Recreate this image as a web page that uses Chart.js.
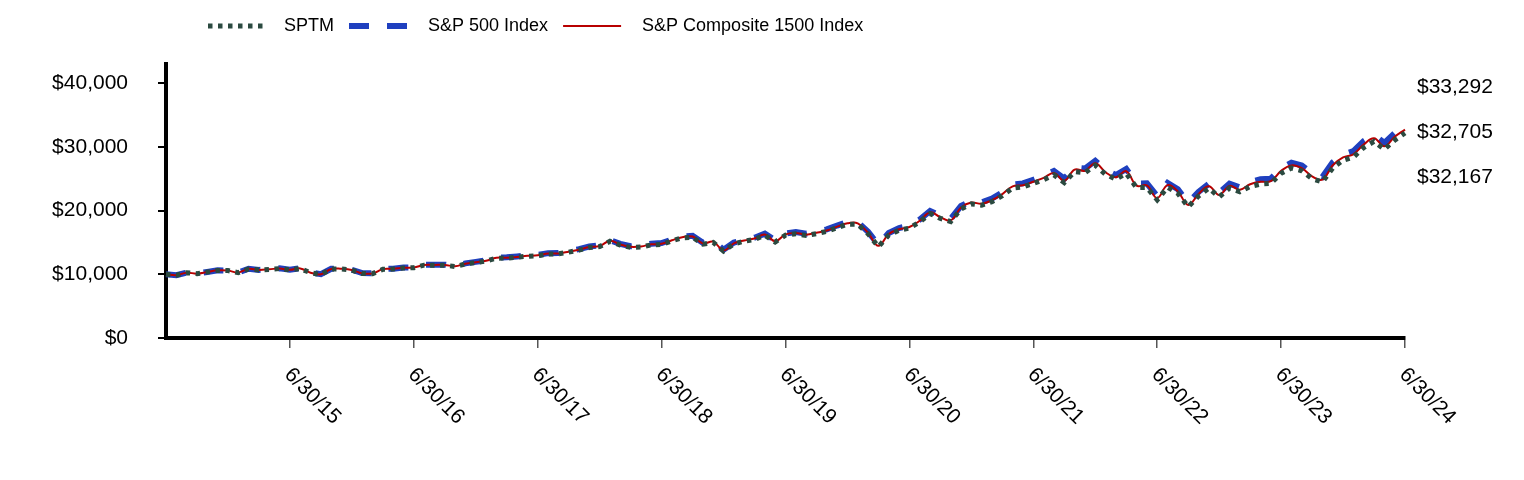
<!DOCTYPE html>
<html><head><meta charset="utf-8">
<script src="https://cdn.jsdelivr.net/npm/chart.js@4.4.1/dist/chart.umd.min.js"></script>
<style>html,body{margin:0;padding:0;background:#fff}#wrap{width:1524px;height:480px}</style>
</head><body><div id="wrap"><canvas id="c" width="1524" height="480"></canvas></div>
<script>
const seriesNames = ['SPTM', 'S&P 500 Index', 'S&P Composite 1500 Index'];

const sptm = [
 10000,9861,10245,10098,10345,10612,10580,10264,10840,10665,10769,10894,
 10678,10902,10231,9974,10814,10833,10655,10126,10098,10777,10819,10998,
 11021,11427,11427,11426,11218,11615,11841,12067,12531,12541,12671,12833,
 12911,13175,13199,13470,13786,14189,14346,15170,14597,14221,14278,14604,
 14693,15240,15719,15807,14727,15008,13647,14738,15195,15485,16112,15070,
 16129,16359,16084,16379,16734,17325,17841,17833,16354,14324,16161,16912,
 17244,18215,19516,18772,18275,20266,21041,20833,21403,22337,23536,23694,
 24249,24831,25582,24394,26112,25925,27089,25695,24919,25842,23596,23625,
 21669,23671,22694,20600,22271,23496,22136,23533,22946,23777,24156,24244,
 25845,26681,26240,24990,24472,26685,27899,28377,29881,30844,29597,31052,
 32167];

const sp500 = [
 10000,9864,10251,10107,10357,10627,10598,10284,10865,10692,10799,10928,
 10714,10942,10272,10016,10863,10885,10709,10181,10155,10841,10886,11070,
 11096,11508,11511,11514,11307,11711,11942,12173,12645,12659,12793,12961,
 13043,13314,13342,13620,13943,14355,14518,15356,14780,14404,14465,14800,
 14894,15453,15944,16037,14946,15235,13858,14970,15438,15738,16380,15325,
 16406,16645,16370,16675,17041,17648,18179,18176,16673,14608,16486,17257,
 17601,18598,19931,19177,18675,20715,21514,21307,21896,22859,24092,24261,
 24837,25440,26217,25007,26776,26592,27794,26371,25582,26537,24238,24275,
 22271,24336,23338,21191,22917,24184,22791,24236,23638,24502,24899,24997,
 26656,27526,27079,25797,25269,27562,28825,29327,30888,31895,30614,32129,
 33292];

const sp1500 = [
 10000,9863,10248,10103,10351,10619,10589,10273,10852,10678,10783,10910,
 10695,10921,10251,9994,10837,10858,10681,10153,10125,10808,10851,11033,
 11057,11466,11467,11468,11261,11661,11889,12118,12586,12598,12729,12894,
 12974,13242,13268,13542,13861,14269,14428,15259,14685,14309,14367,14698,
 14789,15342,15827,15917,14832,15117,13748,14849,15311,15606,16241,15192,
 16262,16496,16221,16521,16881,17480,18003,17997,16507,14460,16317,17077,
 17415,18399,19715,18966,18467,20481,21268,21060,21639,22587,23802,23966,
 24531,25123,25886,24688,26430,26245,27427,26019,25237,26175,23904,23937,
 21957,23990,23003,20883,22581,23826,22450,23870,23277,24125,24512,24605,
 26234,27086,26642,25377,24854,27105,28343,28832,30364,31348,30084,31568,
 32705];

const xTickLabels = ['6/30/15','6/30/16','6/30/17','6/30/18','6/30/19','6/30/20','6/30/21','6/30/22','6/30/23','6/30/24'];
const yTicks = [0, 10000, 20000, 30000, 40000];
const endValues = [33292, 32705, 32167];

// month-end category labels, 6/30/14 .. 6/30/24
const categories = [];
for (let m = 0; m < sp500.length; m++) {
  const d = new Date(2014, 6 + m, 0);
  categories.push((d.getMonth() + 1) + '/' + d.getDate() + '/' + String(d.getFullYear()).slice(2));
}

const GREEN = '#2b4a40', BLUE = '#1f40bf', RED = '#b80000';
const FONT = '"Liberation Sans", Arial, Helvetica, sans-serif';
Chart.defaults.font.family = FONT;
Chart.defaults.color = '#000';

const fmt = v => '$' + Number(v).toLocaleString('en-US');

const legendStyles = [
  {color: GREEN, width: 5, dash: [4.5, 5.5], len: 55},
  {color: BLUE, width: 6, dash: [20, 18], len: 58},
  {color: RED, width: 2, dash: [], len: 58}
];

const overlay = {
  id: 'overlay',
  afterDraw(chart) {
    const ctx = chart.ctx, xs = chart.scales.x, area = chart.chartArea;
    ctx.save();
    // rotated x tick labels
    ctx.font = '21px ' + FONT;
    ctx.fillStyle = '#000';
    ctx.textAlign = 'left';
    ctx.textBaseline = 'top';
    xs.ticks.forEach(t => {
      const px = xs.getPixelForValue(t.value);
      ctx.save();
      ctx.translate(px + 5, area.bottom + 26);
      ctx.rotate(Math.PI / 4);
      ctx.fillText(categories[t.value], 0, 0);
      ctx.restore();
    });
    // end value labels
    ctx.textBaseline = 'middle';
    endValues.forEach((v, i) => ctx.fillText(fmt(v), area.right + 12, area.top + 23 + 45 * i));
    // legend
    ctx.font = '18px ' + FONT;
    let x = 208;
    const y = 26;
    seriesNames.forEach((name, i) => {
      const s = legendStyles[i];
      ctx.save();
      ctx.strokeStyle = s.color;
      ctx.lineWidth = s.width;
      ctx.lineCap = 'butt';
      ctx.setLineDash(s.dash);
      ctx.beginPath();
      ctx.moveTo(x, y);
      ctx.lineTo(x + s.len, y);
      ctx.stroke();
      ctx.restore();
      x += s.len + 21;
      ctx.fillText(name, x, y);
      x += ctx.measureText(name).width + 15;
    });
    ctx.restore();
  }
};

new Chart(document.getElementById('c'), {
  type: 'line',
  data: {
    labels: categories,
    datasets: [
      {label: seriesNames[0], data: sptm, borderColor: GREEN, borderWidth: 5, borderDash: [4.5, 5.5], borderCapStyle: 'butt', tension: 0, order: 0, pointRadius: 0},
      {label: seriesNames[1], data: sp500, borderColor: BLUE, borderWidth: 6, borderDash: [20, 18], tension: 0, order: 2, pointRadius: 0},
      {label: seriesNames[2], data: sp1500, borderColor: RED, borderWidth: 2, tension: 0.4, order: 1, pointRadius: 0}
    ]
  },
  options: {
    responsive: false,
    animation: false,
    devicePixelRatio: 1,
    layout: {padding: {top: 64, right: 119, left: 0, bottom: 0}},
    plugins: {legend: {display: false}, tooltip: {enabled: false}},
    scales: {
      x: {
        type: 'category', offset: false,
        grid: {display: true, drawOnChartArea: false, drawTicks: true, tickLength: 10, color: '#555', lineWidth: 1.5},
        border: {display: true, color: '#000', width: 4},
        ticks: {display: false, autoSkip: false},
        afterBuildTicks: a => { a.ticks = a.ticks.filter(t => xTickLabels.includes(categories[t.value])); },
        afterFit: s => { s.height = 142; }
      },
      y: {
        min: 0, max: 43000,
        grid: {drawOnChartArea: false, drawTicks: true, tickLength: 8, color: '#000', lineWidth: 2},
        border: {color: '#000', width: 4},
        ticks: {color: '#000', font: {size: 21}, padding: 30, callback: v => fmt(v)},
        afterBuildTicks: a => { a.ticks = yTicks.map(v => ({value: v})); },
        afterFit: s => { s.width = 166; }
      }
    }
  },
  plugins: [overlay]
});
</script>
</body></html>
